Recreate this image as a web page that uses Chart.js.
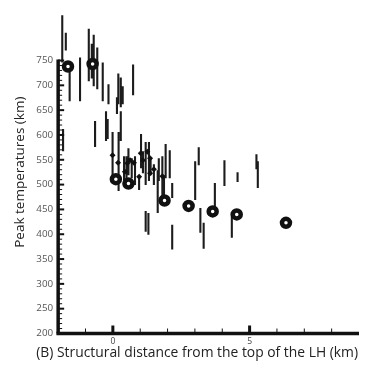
<!DOCTYPE html>
<html>
<head>
<meta charset="utf-8">
<script src="https://cdn.jsdelivr.net/npm/chart.js@4.4.0/dist/chart.umd.min.js"></script>
<style>
  html, body { margin: 0; padding: 0; background: #fff; }
  #wrap { width: 372px; height: 370px; }
</style>
</head>
<body>
<div id="wrap"><canvas id="chart" width="372" height="370"></canvas></div>
<script>
// Peak temperature ranges (vertical bars)
const rangeX = [
  -1.85, -1.72, -1.82, -1.58, -1.20, -0.88, -0.77, -0.70, -0.57, -0.37,
  -0.65, -0.25, -0.16, -0.19, 0.15, 0.20, 0.29, 0.36, 0.29, 0.74,
  -0.01, 0.21, 0.41, 0.50, 0.57, 0.69, 0.81, 0.96, 1.03, 1.10,
  1.20, 1.32, 1.38, 1.50, 1.64, 1.68, 1.81, 1.87, 1.93, 2.08,
  2.17, 1.20, 1.30, 2.17, 3.01, 3.14, 3.20, 3.32, 3.73, 4.08,
  4.35, 4.56, 5.25, 5.30
];
const rangeLow = [
  746, 770, 567, 668, 668, 708, 714, 698, 692, 668,
  576, 588, 662, 592, 642, 662, 656, 662, 588, 680,
  505, 487, 507, 507, 519, 513, 499, 489, 533, 523,
  499, 507, 519, 499, 443, 507, 459, 459, 513, 513,
  473, 405, 399, 369, 469, 539, 403, 371, 447, 497,
  393, 505, 531, 493
];
const rangeHigh = [
  841, 806, 612, 732, 756, 814, 784, 802, 776, 746,
  628, 648, 702, 632, 676, 724, 716, 698, 648, 742,
  606, 606, 557, 557, 573, 553, 557, 517, 602, 567,
  586, 586, 553, 541, 529, 553, 557, 519, 582, 569,
  503, 447, 443, 419, 547, 575, 453, 423, 503, 549,
  445, 525, 561, 547
];

// Diamond markers
const diamondX = [-0.01, 0.19, 0.44, 0.53, 0.63, 0.77, 0.96, 1.02, 1.10, 1.26, 1.36, 1.36, 1.50, 1.81];
const diamondY = [559, 544, 526, 543, 549, 544, 516, 563, 549, 566, 553, 523, 531, 517];

// Ring markers
const circleX = [-1.64, -0.74, 0.11, 0.57, 1.89, 2.77, 3.65, 4.53, 6.33];
const circleY = [738, 743, 511, 502, 468, 457, 446, 440, 423];

const xLabelled = [0, 5];
const yLabelTop = 750;
const xTitle = '(B) Structural distance from the top of the LH (km)';

// build one broken line from the ranges
const rangePoints = [];
rangeX.forEach((x, i) => {
  rangePoints.push({ x: x, y: rangeLow[i] });
  rangePoints.push({ x: x, y: rangeHigh[i] });
  rangePoints.push({ x: x, y: null });
});

// axis lines, inward ticks and the x title (wider than the plot, so drawn here)
const axisPlugin = {
  id: 'axisPlugin',
  afterDatasetsDraw(chart) {
    const { ctx, scales: { x, y } } = chart;
    const x0 = x.getPixelForValue(x.min);
    const y0 = y.getPixelForValue(y.min);
    ctx.save();
    ctx.strokeStyle = '#111';
    ctx.lineCap = 'butt';

    // y axis
    ctx.lineWidth = 3.5;
    ctx.beginPath();
    ctx.moveTo(x0, y0);
    ctx.lineTo(x0, y.getPixelForValue(yLabelTop) - 1);
    ctx.stroke();
    for (let v = y.min; v <= yLabelTop; v += 10) {
      const py = y.getPixelForValue(v);
      const major = v % 50 === 0;
      ctx.lineWidth = major ? 2 : 1;
      ctx.beginPath();
      ctx.moveTo(x0, py);
      ctx.lineTo(x0 + (major ? 6 : 4), py);
      ctx.stroke();
    }

    // x axis
    ctx.lineWidth = 3.5;
    ctx.beginPath();
    ctx.moveTo(x0 - 1.75, y0);
    ctx.lineTo(x.getPixelForValue(x.max), y0);
    ctx.stroke();
    for (let v = x.min + 1; v < x.max; v++) {
      const px = x.getPixelForValue(v);
      const major = xLabelled.includes(v);
      ctx.lineWidth = major ? 3 : 1;
      ctx.beginPath();
      ctx.moveTo(px, y0);
      ctx.lineTo(px, y0 - (major ? 8 : 5));
      ctx.stroke();
    }

    // x title: runs from x=36 to the right end of the axis
    const right = x.getPixelForValue(x.max) - 1;
    ctx.font = '14px "Open Sans"';
    const size = 14 * (right - 36) / ctx.measureText(xTitle).width;
    ctx.font = size.toFixed(2) + 'px "Open Sans"';
    ctx.fillStyle = '#222';
    ctx.textAlign = 'right';
    ctx.textBaseline = 'middle';
    ctx.fillText(xTitle, right, y0 + 20);
    ctx.restore();
  }
};

new Chart(document.getElementById('chart'), {
  type: 'scatter',
  data: {
    datasets: [
      {
        label: 'Rings',
        data: circleX.map((x, i) => ({ x: x, y: circleY[i] })),
        pointStyle: 'circle',
        pointRadius: 4,
        pointBorderWidth: 4.5,
        pointBackgroundColor: '#fff',
        pointBorderColor: '#111',
        order: 0
      },
      {
        label: 'Diamonds',
        data: diamondX.map((x, i) => ({ x: x, y: diamondY[i] })),
        pointStyle: 'rectRot',
        pointRadius: 3,
        pointBorderWidth: 0,
        pointBackgroundColor: '#111',
        order: 1
      },
      {
        label: 'Ranges',
        data: rangePoints,
        showLine: true,
        spanGaps: false,
        borderColor: '#1c1c1c',
        borderWidth: 2.1,
        pointRadius: 0,
        order: 2
      }
    ]
  },
  options: {
    responsive: false,
    animation: false,
    events: [],
    layout: { padding: { left: 8.5, top: 5, right: 13, bottom: 20 } },
    plugins: {
      legend: { display: false },
      tooltip: { enabled: false }
    },
    scales: {
      x: {
        type: 'linear',
        min: -2,
        max: 9,
        grid: { display: false, drawTicks: false },
        border: { display: false },
        ticks: {
          stepSize: 1,
          autoSkip: false,
          maxRotation: 0,
          padding: 4,
          color: '#444',
          font: { family: 'Open Sans', size: 8.5, lineHeight: 1 },
          callback: (v) => xLabelled.includes(v) ? String(v) : ''
        },
        title: { display: false }
      },
      y: {
        type: 'linear',
        min: 200,
        max: 850,
        grid: { display: false, drawTicks: false },
        border: { display: false },
        ticks: {
          stepSize: 50,
          padding: 5,
          color: '#555',
          font: { family: 'Open Sans', size: 9.8 },
          callback: (v) => v <= yLabelTop ? String(v) : ''
        },
        title: {
          display: true,
          text: 'Peak temperatures (km)',
          color: '#222',
          padding: { top: 4, bottom: 4 },
          font: { family: 'Open Sans', size: 13.5, lineHeight: 1.1 }
        }
      }
    }
  },
  plugins: [axisPlugin]
});
</script>
</body>
</html>
